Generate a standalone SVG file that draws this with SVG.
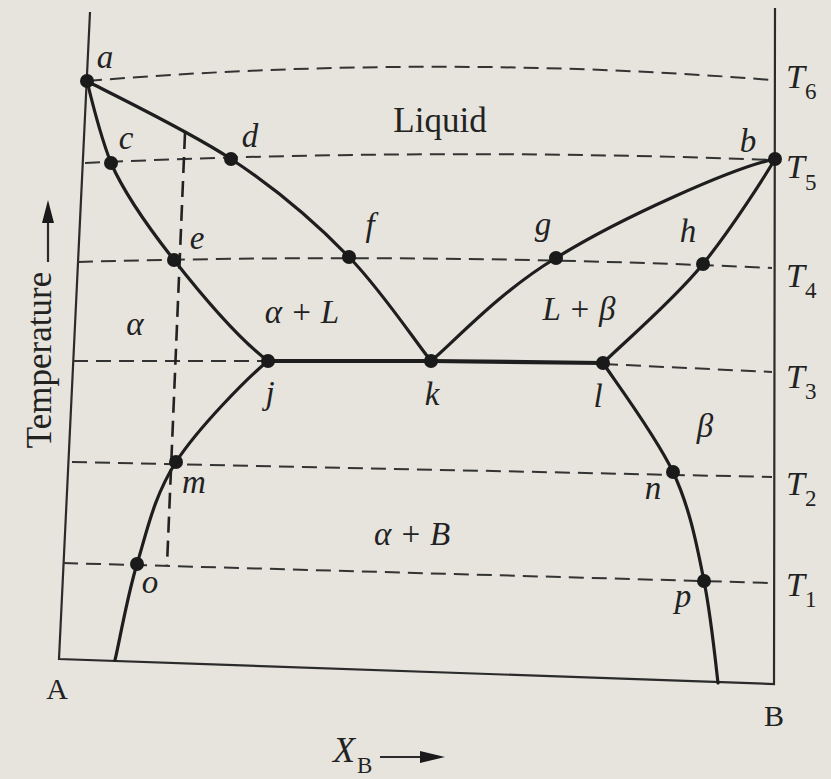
<svg xmlns="http://www.w3.org/2000/svg" width="831" height="779" viewBox="0 0 831 779">
<style>
.bg{fill:#e6e4dd}
.axis{fill:none;stroke:#2b2b2b;stroke-width:2.2}
.curve{fill:none;stroke:#1e1e1e;stroke-width:3.2;stroke-linecap:round}
.eut{fill:none;stroke:#1e1e1e;stroke-width:4.2}
.dash{fill:none;stroke:#333;stroke-width:2;stroke-dasharray:15 8}
.vdash{fill:none;stroke:#222;stroke-width:2.6;stroke-dasharray:16 8}
.dot{fill:#1a1a1a}
.lbl{font-family:"Liberation Serif",serif;font-style:italic;font-size:33px;fill:#222;text-anchor:middle}
.reg{font-family:"Liberation Serif",serif;font-size:34px;fill:#222;text-anchor:middle}
.tl{font-family:"Liberation Serif",serif;font-style:italic;font-size:34px;fill:#222}
.sub{font-family:"Liberation Serif",serif;font-size:23px;fill:#222}
</style>
<rect class="bg" x="0" y="0" width="831" height="779"/>

<g id="axes">
<path class="axis" d="M90,12 L59,659 L774,684 L775,8"/>
</g>

<g id="isotherms">
<path class="dash" d="M87,81 Q430,53 772,80"/>
<path class="dash" d="M85,163 Q430,147 773,160"/>
<path class="dash" d="M78,262 Q420,252 772,268"/>
<path class="dash" d="M73,361 L268,361"/>
<path class="dash" d="M603,364 L772,372"/>
<path class="dash" d="M72,462 L772,477"/>
<path class="dash" d="M63,563 L772,583"/>
<path class="vdash" d="M185,133 L167,565"/>
</g>

<g id="connectors">
<path class="curve" d="M87,81 C111,94 187,130 231,159 C275,188 316,223 349,257 C382,291 417,344 431,361"/>
<path class="curve" d="M87,81 C93,106 102,140 111,163 C125,195 148,227 174,260 C200,293 240,340 268,361"/>
<path class="curve" d="M268,361 C248,377 198,428 176,462 C154,496 147,531 137,564 C127,597 119,644 115,660"/>
<path class="curve" d="M431,361 C452,344 499,292 556,258 C620,218 735,167 775,159"/>
<path class="curve" d="M775,159 C765,176 732,228 703,264 C674,300 620,346 603,363"/>
<path class="curve" d="M603,363 C615,381 656,436 673,472 C690,508 697,546 704,581 C711,616 716,666 718,683"/>
<path class="eut" d="M268,361 L431,361 L603,363"/>
</g>

<g id="node-a"><circle class="dot" cx="87" cy="81" r="7"/><text class="lbl" x="105" y="68">a</text></g>
<g id="node-b"><circle class="dot" cx="775" cy="159" r="7"/><text class="lbl" x="748" y="152">b</text></g>
<g id="node-c"><circle class="dot" cx="111" cy="163" r="7"/><text class="lbl" x="126" y="149">c</text></g>
<g id="node-d"><circle class="dot" cx="231" cy="159" r="7"/><text class="lbl" x="250" y="147">d</text></g>
<g id="node-e"><circle class="dot" cx="174" cy="260" r="7"/><text class="lbl" x="197" y="249">e</text></g>
<g id="node-f"><circle class="dot" cx="349" cy="257" r="7"/><text class="lbl" x="370" y="236">f</text></g>
<g id="node-g"><circle class="dot" cx="556" cy="258" r="7"/><text class="lbl" x="543" y="235">g</text></g>
<g id="node-h"><circle class="dot" cx="703" cy="264" r="7"/><text class="lbl" x="688" y="242">h</text></g>
<g id="node-j"><circle class="dot" cx="268" cy="361" r="7"/><text class="lbl" x="270" y="404">j</text></g>
<g id="node-k"><circle class="dot" cx="431" cy="361" r="7"/><text class="lbl" x="432" y="405">k</text></g>
<g id="node-l"><circle class="dot" cx="603" cy="363" r="7"/><text class="lbl" x="598" y="407">l</text></g>
<g id="node-m"><circle class="dot" cx="176" cy="462" r="7"/><text class="lbl" x="194" y="493">m</text></g>
<g id="node-n"><circle class="dot" cx="673" cy="472" r="7"/><text class="lbl" x="653" y="499">n</text></g>
<g id="node-o"><circle class="dot" cx="137" cy="564" r="7"/><text class="lbl" x="150" y="593">o</text></g>
<g id="node-p"><circle class="dot" cx="704" cy="581" r="7"/><text class="lbl" x="683" y="607">p</text></g>

<g id="regions">
<text class="reg" x="440" y="132" style="font-size:35px">Liquid</text>
<text class="lbl" x="135" y="335">α</text>
<text class="lbl" x="302" y="323">α + L</text>
<text class="lbl" x="579" y="320">L + β</text>
<text class="lbl" x="705" y="437">β</text>
<text class="lbl" x="412" y="545">α + B</text>
</g>

<g id="temps">
<text class="tl" x="786" y="88">T</text><text class="sub" x="805" y="99">6</text>
<text class="tl" x="786" y="178">T</text><text class="sub" x="805" y="190">5</text>
<text class="tl" x="786" y="287">T</text><text class="sub" x="805" y="298">4</text>
<text class="tl" x="786" y="388">T</text><text class="sub" x="805" y="399">3</text>
<text class="tl" x="786" y="495">T</text><text class="sub" x="805" y="506">2</text>
<text class="tl" x="786" y="596">T</text><text class="sub" x="805" y="607">1</text>
</g>

<g id="axis-labels">
<text class="reg" x="57" y="699" style="font-size:30px">A</text>
<text class="reg" x="774" y="726" style="font-size:30px">B</text>
<text class="reg" x="0" y="0" transform="translate(51,360) rotate(-90)" style="font-size:35px">Temperature</text>
<path class="axis" d="M48,262 L48,220"/>
<polygon class="dot" points="48,200 42,223 54,223"/>
<text class="tl" x="333" y="762" style="font-size:36px">X</text>
<text class="sub" x="357" y="773">B</text>
<path class="axis" d="M380,757 L424,757"/>
<polygon class="dot" points="445,757 420,751 420,763"/>
</g>
</svg>
